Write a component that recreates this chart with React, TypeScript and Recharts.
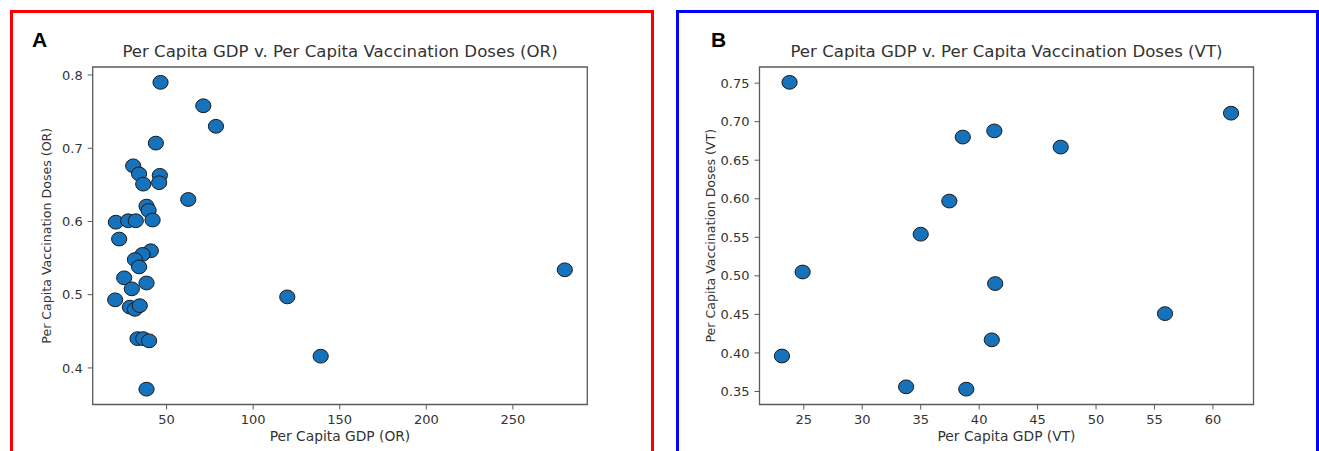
import React from "react";
import {
  ScatterChart,
  Scatter,
  XAxis,
  YAxis,
  ReferenceArea,
} from "recharts";

// Oregon counties: per capita GDP vs per capita vaccination doses
const orGdp = [
  46.5, 71.2, 78.5, 43.8, 30.7, 34.1, 36.5, 46.1, 45.7, 62.5, 38.4, 39.6, 41.9,
  20.7, 27.8, 32.2, 22.6, 40.9, 36.1, 31.7, 34.1, 25.5, 38.4, 29.9, 20.3, 28.8,
  31.7, 34.5, 33.2, 36.5, 39.9, 38.4, 119.7, 139.0, 280.0,
];
const orDoses = [
  0.79, 0.758, 0.73, 0.707, 0.676, 0.665, 0.651, 0.663, 0.653, 0.63, 0.621,
  0.615, 0.602, 0.599, 0.601, 0.601, 0.576, 0.56, 0.555, 0.548, 0.538, 0.523,
  0.516, 0.508, 0.493, 0.483, 0.48, 0.485, 0.44, 0.44, 0.437, 0.371, 0.497,
  0.416, 0.534,
];

// Vermont counties
const vtGdp = [
  23.78, 61.55, 41.3, 38.6, 46.98, 37.45, 35.0, 24.9, 41.37, 55.9, 41.08, 23.13,
  33.75, 38.9,
];
const vtDoses = [
  0.751, 0.711, 0.688, 0.68, 0.667, 0.597, 0.554, 0.505, 0.49, 0.451, 0.417,
  0.396, 0.356, 0.353,
];

const orXTicks = [50, 100, 150, 200, 250];
const orYTicks = [0.4, 0.5, 0.6, 0.7, 0.8];
const vtXTicks = [25, 30, 35, 40, 45, 50, 55, 60];
const vtYTicks = [0.35, 0.4, 0.45, 0.5, 0.55, 0.6, 0.65, 0.7, 0.75];

const TEXT = "#333";
const FRAME = "#5a5a5a";

// matplotlib-style autoscale: 5% padding on each side
const padded = (vals: number[]): [number, number] => {
  const lo = Math.min(...vals);
  const hi = Math.max(...vals);
  const m = (hi - lo) * 0.05;
  return [lo - m, hi + m];
};

const Dot = (p: any) => (
  <ellipse
    cx={p.cx}
    cy={p.cy}
    rx={7.6}
    ry={6.9}
    fill="#1572bb"
    stroke="#1a1a1a"
    strokeWidth={1}
  />
);

interface PanelProps {
  gdp: number[];
  doses: number[];
  xTicks: number[];
  yTicks: number[];
  yDigits: number;
  tag: string;
  width: number;
  yAxisWidth: number;
  marginLeft: number;
  marginRight: number;
}

const Panel = ({
  gdp,
  doses,
  xTicks,
  yTicks,
  yDigits,
  tag,
  width,
  yAxisWidth,
  marginLeft,
  marginRight,
}: PanelProps) => {
  const data = gdp.map((g, i) => ({ x: g, y: doses[i] }));
  const xd = padded(gdp);
  const yd = padded(doses);
  return (
    <ScatterChart
      width={width}
      height={451}
      margin={{ top: 67, right: marginRight, left: marginLeft, bottom: 26.5 }}
      style={{ fontFamily: "DejaVu Sans" }}
    >
      <XAxis
        type="number"
        dataKey="x"
        domain={xd}
        ticks={xTicks}
        allowDataOverflow
        axisLine={false}
        tickLine={{ stroke: FRAME }}
        tickSize={5}
        tickMargin={5}
        height={20}
        tick={{ fill: TEXT, fontSize: 13 }}
        label={{
          value: `Per Capita GDP (${tag})`,
          position: "bottom",
          offset: 6.5,
          fill: TEXT,
          fontSize: 13.8,
        }}
      />
      <YAxis
        type="number"
        dataKey="y"
        domain={yd}
        ticks={yTicks}
        allowDataOverflow
        axisLine={false}
        tickLine={{ stroke: FRAME }}
        tickSize={5}
        tickMargin={5}
        width={yAxisWidth}
        tick={{ fill: TEXT, fontSize: 13 }}
        tickFormatter={(v: number) => v.toFixed(yDigits)}
        label={{
          value: `Per Capita Vaccination Doses (${tag})`,
          angle: -90,
          position: "center",
          fill: TEXT,
          fontSize: 12.6,
        }}
      />
      <ReferenceArea
        x1={xd[0]}
        x2={xd[1]}
        y1={yd[0]}
        y2={yd[1]}
        fill="none"
        stroke={FRAME}
        strokeWidth={1.3}
        fillOpacity={0}
      />
      <Scatter data={data} shape={Dot} isAnimationActive={false} />
    </ScatterChart>
  );
};

const titleStyle = (center: number): React.CSSProperties => ({
  position: "absolute",
  left: center - 300,
  top: 44,
  width: 600,
  textAlign: "center",
  fontFamily: "DejaVu Sans",
  fontSize: 16.6,
  lineHeight: "16.6px",
  color: TEXT,
  whiteSpace: "nowrap",
});

const letterStyle = (left: number): React.CSSProperties => ({
  position: "absolute",
  left,
  top: 29.2,
  fontFamily: "Liberation Sans",
  fontWeight: 700,
  fontSize: 21,
  lineHeight: "21px",
  color: "#000",
});

export default function App() {
  return (
    <div
      style={{
        position: "absolute",
        left: 0,
        top: 0,
        width: 1319,
        height: 451,
        overflow: "hidden",
        background: "#fff",
      }}
    >
      <div
        style={{
          position: "absolute",
          left: 10,
          top: 10,
          width: 644,
          height: 470,
          border: "3px solid #ff0000",
          boxSizing: "border-box",
        }}
      />
      <div
        style={{
          position: "absolute",
          left: 676,
          top: 10,
          width: 643,
          height: 470,
          border: "3px solid #0000ff",
          boxSizing: "border-box",
        }}
      />

      <div style={{ position: "absolute", left: 0, top: 0 }}>
        <Panel
          gdp={orGdp}
          doses={orDoses}
          xTicks={orXTicks}
          yTicks={orYTicks}
          yDigits={1}
          tag="OR"
          width={660}
          yAxisWidth={92.7}
          marginLeft={0}
          marginRight={72.7}
        />
      </div>
      <div style={{ position: "absolute", left: 660, top: 0 }}>
        <Panel
          gdp={vtGdp}
          doses={vtDoses}
          xTicks={vtXTicks}
          yTicks={vtYTicks}
          yDigits={2}
          tag="VT"
          width={659}
          yAxisWidth={97}
          marginLeft={2.5}
          marginRight={65.5}
        />
      </div>

      <div style={titleStyle(340)}>
        Per Capita GDP v. Per Capita Vaccination Doses (OR)
      </div>
      <div style={titleStyle(1006.5)}>
        Per Capita GDP v. Per Capita Vaccination Doses (VT)
      </div>
      <div style={letterStyle(32)}>A</div>
      <div style={letterStyle(711)}>B</div>
    </div>
  );
}
